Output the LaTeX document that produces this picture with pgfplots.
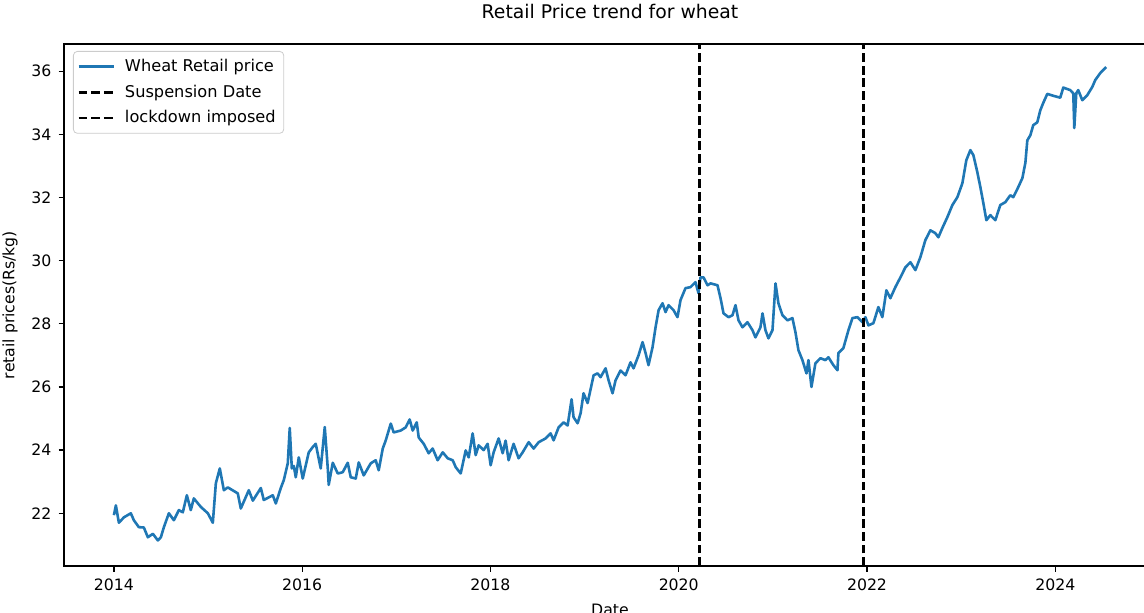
\documentclass[border=0pt]{standalone}
\usepackage{pgfplots}
\pgfplotsset{compat=1.18}
\usepackage{fontspec}
\setmainfont{DejaVu Sans}
\definecolor{mplblue}{HTML}{1F77B4}

\begin{document}
\begin{tikzpicture}
\begin{axis}[
    scale only axis,
    width=546pt, height=261pt,
    xmin=2013.47, xmax=2025.07,
    ymin=20.33, ymax=36.86,
    xtick={2014,2016,2018,2020,2022,2024},
    ytick={22,24,26,28,30,32,34,36},
    xtick pos=bottom, ytick pos=left,
    tick align=outside,
    major tick length=2.75pt,
    every tick/.style={black, line width=0.63pt},
    axis line style={line width=0.63pt},
    tick label style={font=\fontsize{7.85}{9}\selectfont},
    /pgf/number format/assume math mode=true,
    x tick label style={/pgf/number format/1000 sep={}},
    scaled x ticks=false,
    title={Retail Price trend for wheat},
    title style={font=\fontsize{9.4}{11}\selectfont, at={(0.5,1)}, anchor=south, yshift=3pt},
    xlabel={Date},
    ylabel={retail prices(Rs/kg)},
    label style={font=\fontsize{7.85}{9}\selectfont},
    legend cell align=left,
    legend image code/.code={\draw[#1] (0pt,0pt) -- (17.5pt,0pt); \path (20.5pt,0pt);},
    legend style={at={(0,1)}, anchor=north west, xshift=4.5pt, yshift=-3.5pt,
        draw=black!20, rounded corners=2pt, fill=white, fill opacity=0.8, text opacity=1,
        font=\fontsize{8.1}{9}\selectfont, inner xsep=2pt, inner ysep=1.8pt, row sep=1.2pt},
]
\addplot[mplblue, line width=1.3pt, line join=round] coordinates {
(2014.000,21.94)(2014.021,22.25)(2014.053,21.70)(2014.106,21.87)(2014.180,22.00)
(2014.212,21.78)(2014.265,21.56)(2014.318,21.55)(2014.361,21.24)(2014.414,21.35)
(2014.467,21.14)(2014.499,21.24)(2014.531,21.56)(2014.584,22.00)(2014.637,21.78)
(2014.690,22.10)(2014.732,22.03)(2014.775,22.57)(2014.817,22.10)(2014.849,22.47)
(2014.924,22.20)(2014.998,22.00)(2015.051,21.70)(2015.083,22.95)(2015.125,23.42)
(2015.168,22.73)(2015.210,22.82)(2015.316,22.63)(2015.348,22.15)(2015.433,22.73)
(2015.476,22.40)(2015.561,22.80)(2015.592,22.42)(2015.688,22.57)(2015.720,22.31)
(2015.773,22.80)(2015.805,23.05)(2015.847,23.58)(2015.868,24.70)(2015.890,23.42)
(2015.911,23.50)(2015.932,23.14)(2015.964,23.77)(2016.006,23.10)(2016.070,23.93)
(2016.113,24.10)(2016.144,24.20)(2016.197,23.42)(2016.240,24.73)(2016.272,23.42)
(2016.282,22.90)(2016.325,23.60)(2016.378,23.26)(2016.431,23.30)(2016.484,23.60)
(2016.516,23.14)(2016.569,23.10)(2016.601,23.61)(2016.654,23.20)(2016.728,23.58)
(2016.781,23.68)(2016.813,23.36)(2016.856,24.05)(2016.887,24.30)(2016.941,24.84)
(2016.972,24.56)(2017.047,24.62)(2017.100,24.72)(2017.142,24.97)(2017.174,24.62)
(2017.217,24.88)(2017.238,24.40)(2017.291,24.20)(2017.344,23.90)(2017.386,24.05)
(2017.439,23.68)(2017.493,23.93)(2017.546,23.74)(2017.599,23.68)(2017.631,23.46)
(2017.684,23.26)(2017.737,23.99)(2017.769,23.77)(2017.811,24.53)(2017.843,23.84)
(2017.875,24.15)(2017.928,24.00)(2017.970,24.20)(2018.002,23.52)(2018.034,23.93)
(2018.087,24.37)(2018.130,23.90)(2018.161,24.30)(2018.193,23.68)(2018.246,24.20)
(2018.299,23.74)(2018.342,23.93)(2018.406,24.25)(2018.459,24.05)(2018.512,24.25)
(2018.586,24.37)(2018.639,24.53)(2018.671,24.31)(2018.724,24.72)(2018.777,24.88)
(2018.820,24.78)(2018.862,25.61)(2018.883,25.04)(2018.926,24.85)(2018.958,25.17)
(2018.989,25.80)(2019.032,25.49)(2019.096,26.37)(2019.138,26.43)(2019.170,26.31)
(2019.223,26.59)(2019.255,26.21)(2019.297,25.80)(2019.329,26.21)(2019.382,26.52)
(2019.435,26.37)(2019.488,26.78)(2019.520,26.59)(2019.573,27.00)(2019.616,27.42)
(2019.648,27.07)(2019.679,26.69)(2019.722,27.26)(2019.754,27.89)(2019.786,28.43)
(2019.828,28.65)(2019.860,28.37)(2019.892,28.59)(2019.945,28.43)(2019.987,28.21)
(2020.019,28.75)(2020.072,29.13)(2020.125,29.16)(2020.178,29.32)(2020.210,28.97)
(2020.231,29.47)(2020.263,29.47)(2020.306,29.22)(2020.338,29.28)(2020.412,29.22)
(2020.444,28.81)(2020.476,28.33)(2020.529,28.21)(2020.571,28.27)(2020.603,28.59)
(2020.635,28.11)(2020.677,27.89)(2020.730,28.05)(2020.783,27.80)(2020.815,27.57)
(2020.868,27.89)(2020.890,28.33)(2020.921,27.80)(2020.953,27.54)(2020.996,27.80)
(2021.028,29.28)(2021.059,28.65)(2021.102,28.27)(2021.155,28.11)(2021.208,28.18)
(2021.240,27.73)(2021.272,27.16)(2021.314,26.85)(2021.357,26.43)(2021.378,26.85)
(2021.410,26.00)(2021.452,26.75)(2021.505,26.91)(2021.558,26.85)(2021.590,26.94)
(2021.643,26.69)(2021.686,26.53)(2021.696,27.07)(2021.749,27.23)(2021.803,27.80)
(2021.845,28.18)(2021.898,28.21)(2021.951,28.05)(2021.983,28.21)(2022.015,27.95)
(2022.068,28.02)(2022.121,28.53)(2022.163,28.21)(2022.206,29.06)(2022.248,28.81)
(2022.301,29.16)(2022.355,29.47)(2022.408,29.79)(2022.461,29.95)(2022.514,29.70)
(2022.567,30.11)(2022.620,30.65)(2022.673,30.96)(2022.726,30.87)(2022.758,30.74)
(2022.800,31.03)(2022.854,31.38)(2022.907,31.76)(2022.960,32.01)(2023.013,32.45)
(2023.055,33.18)(2023.098,33.50)(2023.130,33.34)(2023.172,32.80)(2023.204,32.33)
(2023.236,31.82)(2023.268,31.28)(2023.310,31.44)(2023.363,31.28)(2023.416,31.76)
(2023.469,31.85)(2023.522,32.07)(2023.554,32.01)(2023.607,32.33)(2023.650,32.61)
(2023.682,33.09)(2023.703,33.81)(2023.735,33.97)(2023.766,34.29)(2023.809,34.38)
(2023.841,34.76)(2023.873,35.00)(2023.915,35.28)(2023.979,35.22)(2024.053,35.16)
(2024.085,35.48)(2024.159,35.40)(2024.191,35.30)(2024.202,34.20)(2024.223,35.30)
(2024.244,35.40)(2024.287,35.08)(2024.340,35.24)(2024.393,35.50)(2024.425,35.72)
(2024.478,35.94)(2024.541,36.13)
};
\addlegendentry{Wheat Retail price}
\addplot[black, line width=1.15pt, dash pattern=on 4.4pt off 1.9pt] coordinates {(2020.221,20.33)(2020.221,36.86)};
\addlegendentry{Suspension Date}
\addplot[black, line width=1.15pt, dash pattern=on 4.4pt off 1.9pt] coordinates {(2021.962,20.33)(2021.962,36.86)};
\addlegendentry{lockdown imposed}
\end{axis}
\pgfresetboundingbox
\useasboundingbox ([xshift=-32pt, yshift=-23pt]current axis.south west) rectangle ++(572pt,306pt);
\end{tikzpicture}
\end{document}
